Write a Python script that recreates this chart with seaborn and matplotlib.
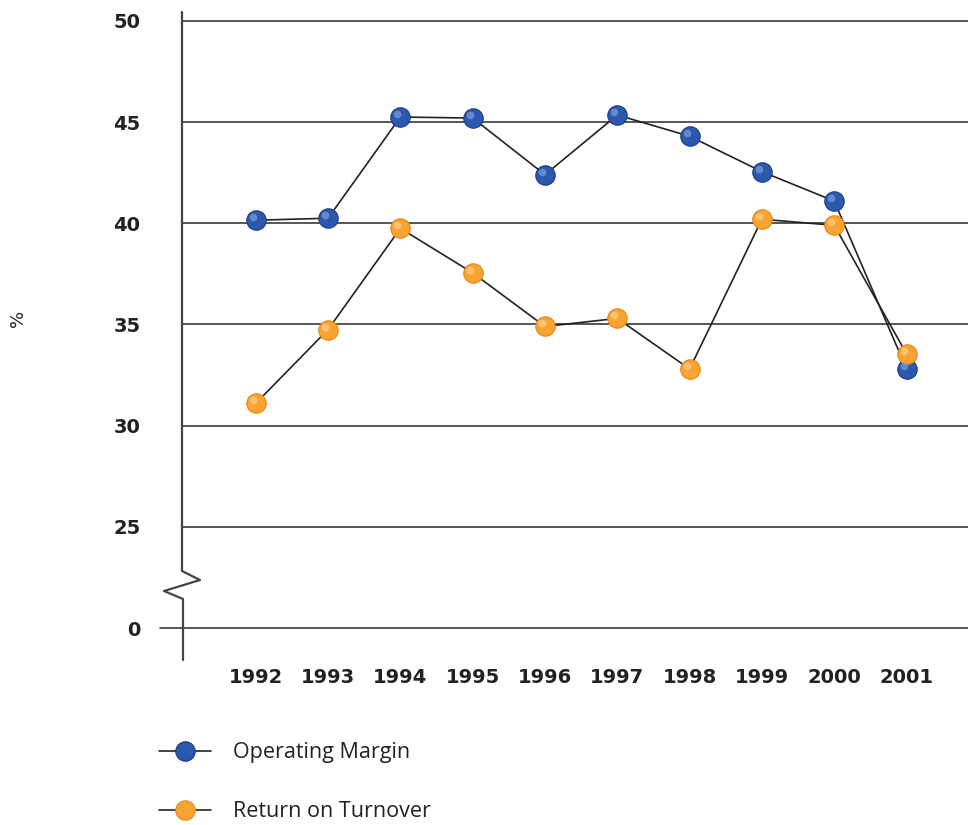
import numpy as np
import pandas as pd
import seaborn as sns
import matplotlib.pyplot as plt
from matplotlib.lines import Line2D
from matplotlib import transforms

# data
years = [1992, 1993, 1994, 1995, 1996, 1997, 1998, 1999, 2000, 2001]
operating_margin = [40.15, 40.25, 45.25, 45.2, 42.4, 45.35, 44.3, 42.55, 41.1, 32.8]
return_on_turnover = [31.1, 34.75, 39.75, 37.55, 34.9, 35.3, 32.8, 40.2, 39.9, 33.55]
series_names = ["Operating Margin", "Return on Turnover"]
y_ticks = [25, 30, 35, 40, 45, 50]

blue, blue_edge, blue_hi = "#2c58ad", "#1c3d83", "#7f9fd8"
orange, orange_edge, orange_hi = "#f8a332", "#e5871a", "#fdd08a"

df = pd.DataFrame({
    "year": years * 2,
    "value": operating_margin + return_on_turnover,
    "series": [series_names[0]] * len(years) + [series_names[1]] * len(years),
})

sns.set_theme(style="white")
plt.rcParams["font.family"] = ["DejaVu Sans"]

fig = plt.figure(figsize=(9.68, 8.25), dpi=100)
ax = fig.add_axes([182 / 968, 1 - 660 / 825, 786 / 968, 648 / 825])

# zero is drawn where 20 would sit (broken axis)
zero_pos = 20
ax.set_ylim(18.42, 50.44)
ax.set_xlim(1990.98, 2001.85)

for t in y_ticks:
    ax.axhline(t, color="#3a3a3a", lw=1.2, zorder=1)
ax.axhline(zero_pos, xmin=-22 / 786, xmax=1, color="#3a3a3a", lw=1.2, zorder=1, clip_on=False)

sns.lineplot(data=df, x="year", y="value", units="series", estimator=None,
             color="#222222", lw=1.2, ax=ax, zorder=2, legend=False)

ms = 14
cols = [(blue, blue_edge, blue_hi), (orange, orange_edge, orange_hi)]
hi_off = transforms.offset_copy(ax.transData, fig=fig, x=-3, y=3, units="dots")
for name, (c, ec, hc) in zip(series_names, cols):
    sub = df[df.series == name]
    ax.plot(sub.year, sub.value, ls="none", marker="o", ms=ms, mfc=c, mec=ec, mew=0.8, zorder=3)
    ax.plot(sub.year, sub.value, ls="none", marker="o", ms=5.5, mfc=hc, mec="none",
            alpha=0.7, zorder=4, transform=hi_off)

# y axis line with break mark (axes coordinates)
def fx(px):
    return (px - 182) / 786

def fy(py):
    return (660 - py) / 648

ax.plot([fx(182), fx(182), fx(200), fx(164), fx(183), fx(183)],
        [fy(12), fy(571), fy(580), fy(591), fy(599), fy(660)],
        transform=ax.transAxes, color="#444444", lw=1.6, clip_on=False, zorder=5)

for s in ax.spines.values():
    s.set_visible(False)

ax.set_yticks(y_ticks + [zero_pos])
ax.set_yticklabels([str(t) for t in y_ticks] + ["0"])
ax.set_xticks(years)
ax.set_xticklabels([str(y) for y in years])
ax.tick_params(axis="y", length=0, pad=30, labelsize=14, labelcolor="#222222")
ax.tick_params(axis="x", length=0, pad=6, labelsize=14, labelcolor="#222222")
for lab in ax.get_xticklabels() + ax.get_yticklabels():
    lab.set_fontweight("bold")
ax.set_xlabel("")
ax.set_ylabel("")
fig.text(18 / 968, 1 - 318 / 825, "%", rotation=90, ha="center", va="center",
         fontsize=13, color="#222222")

handles = [
    Line2D([], [], color="#222222", lw=1.2, marker="o", ms=ms, mfc=blue, mec=blue_edge, mew=0.8),
    Line2D([], [], color="#222222", lw=1.2, marker="o", ms=ms, mfc=orange, mec=orange_edge, mew=0.8),
]
fig.legend(handles, series_names, loc="upper left", bbox_to_anchor=(140 / 968, 1 - 723 / 825),
           frameon=False, handlelength=2.4, handletextpad=1.0, labelspacing=1.75,
           prop={"family": "Open Sans", "size": 15.5}, labelcolor="#222222")

fig.savefig("out.png", dpi=100)
